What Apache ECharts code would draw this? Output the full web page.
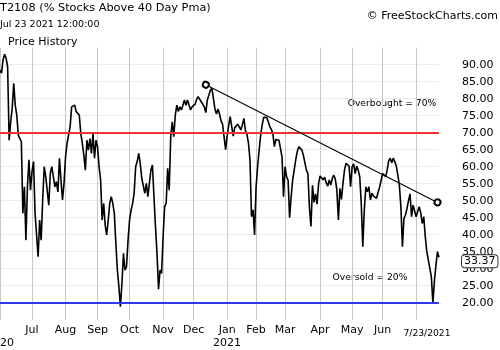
<!DOCTYPE html>
<html><head><meta charset="utf-8">
<script src="https://cdn.jsdelivr.net/npm/echarts@6/dist/echarts.min.js"></script>
<style>html,body{margin:0;padding:0;background:#fff}#c{width:500px;height:350px}</style>
</head><body><div id="c"></div>
<script>
// ---- data ----
const firstDate = '2020-06-02';
const lastDate = '2021-07-23';
const holidays = ['2020-07-03','2020-09-07','2020-11-26','2020-12-25','2021-01-01','2021-01-18','2021-02-15','2021-04-02','2021-05-31','2021-07-05'];
const monthNames = ['Jan','Feb','Mar','Apr','May','Jun','Jul','Aug','Sep','Oct','Nov','Dec'];

const jun20 = [88.4, 87.5, 91.4, 93.1, 91.9, 89.4, 67.8, 73.2, 77.2, 84.5, 78.1, 75.2, 69.3, 68.3, 67.4, 46.3, 54.1, 38.4, 54.1, 62.0, 53.1];
const jul20 = [58.5, 61.5, 46.3, 45.8, 33.5, 44.3, 38.4, 50.2, 60.0, 57.1, 56.6, 48.7, 58.0, 60.0, 59.5, 54.1, 55.6, 52.6, 62.5, 56.1, 50.2, 55.1];
const aug20 = [62.9, 66.9, 66.4, 71.8, 77.6, 77.2, 78.1, 76.2, 76.2, 75.2, 69.8, 66.9, 63.4, 59.0, 67.8, 64.9, 68.3, 63.9, 69.8, 62.5, 67.8];
const sep20 = [65.9, 60.0, 56.1, 44.3, 49.2, 42.8, 39.9, 44.3, 49.2, 51.2, 49.2, 46.3, 37.5, 29.6, 24.7, 18.8, 25.7, 34.5, 29.6, 30.6, 38.4];
const oct20 = [44.3, 47.3, 49.2, 52.2, 60.0, 61.5, 63.9, 61.0, 56.6, 57.1, 52.2, 55.1, 51.2, 55.1, 59.0, 60.5, 51.2, 42.4, 34.5, 24.0, 29.6, 28.6];
const nov20 = [39.4, 48.2, 49.2, 59.5, 53.1, 68.8, 73.2, 68.8, 75.2, 78.1, 76.2, 77.6, 76.7, 78.1, 79.6, 78.1, 79.6, 79.6, 76.7, 77.6];
const dec20 = [77.2, 78.4, 79.8, 80.6, 80.1, 79.1, 78.4, 77.6, 75.9, 79.6, 81.0, 82.5, 83.1, 80.1, 77.0, 75.5, 77.0, 75.5, 73.5, 72.5, 72.5, 65.0];
const jan21 = [69.0, 72.0, 74.7, 74.5, 69.0, 71.5, 71.0, 72.5, 72.3, 70.8, 72.3, 74.2, 70.6, 69.6, 66.9, 62.0, 45.3, 47.3, 39.9];
const feb21 = [54.1, 60.0, 64.9, 69.3, 72.3, 74.5, 74.9, 74.5, 73.2, 71.8, 71.0, 69.8, 65.9, 68.0, 68.0, 67.8, 68.3, 62.9, 51.2];
const mar21 = [60.0, 57.1, 56.0, 45.0, 51.2, 56.1, 59.0, 62.0, 64.4, 65.9, 66.4, 64.9, 63.4, 62.9, 59.0, 58.0, 48.0, 42.4, 54.5, 49.5, 52.0, 49.0, 55.0];
const apr21 = [57.3, 57.1, 56.1, 56.9, 55.3, 54.3, 56.1, 54.6, 56.6, 57.5, 56.3, 53.1, 44.3, 53.6, 50.4, 55.1, 59.0, 61.0, 61.5, 60.2, 54.1];
const may21 = [60.0, 60.8, 58.0, 60.2, 59.0, 57.1, 49.2, 36.5, 47.3, 54.1, 52.6, 54.1, 50.2, 52.2, 51.4, 51.7, 50.7, 52.4, 53.9, 54.1];
const jun21 = [58.0, 57.5, 57.1, 59.0, 61.8, 62.5, 61.2, 62.5, 61.5, 60.2, 57.5, 54.6, 48.2, 36.5, 44.8, 45.8, 47.7, 50.0, 52.0, 45.3, 48.7, 49.2];
const jul21 = [45.3, 45.8, 48.2, 46.5, 43.3, 45.3, 39.4, 35.0, 32.5, 30.1, 27.5, 19.8, 26.5, 31.0, 35.0, 33.37];

const overbought = 70;
const oversold = 20;
const trendStart = ['2020-12-11', 84.1];
const trendEnd = ['2021-07-22', 49.5];
const lastDateLabel = '7/23/2021';

// ---- build ----
const values = [].concat(jun20, jul20, aug20, sep20, oct20, nov20, dec20, jan21, feb21, mar21, apr21, may21, jun21, jul21);
const dates = [];
(function () {
  let d = new Date(firstDate + 'T00:00:00Z');
  const end = new Date(lastDate + 'T00:00:00Z');
  while (d <= end) {
    const wd = d.getUTCDay();
    const s = d.toISOString().slice(0, 10);
    if (wd !== 0 && wd !== 6 && holidays.indexOf(s) < 0) dates.push(s);
    d = new Date(d.getTime() + 86400000);
  }
})();
const lastIdx = dates.length - 1;
const monthStart = new Set();
for (let i = 1; i < dates.length; i++) if (dates[i].slice(5, 7) !== dates[i - 1].slice(5, 7)) monthStart.add(i);
const labelShown = i => i === 0 || i === lastIdx || (monthStart.has(i) && i < lastIdx - 20);

const FF = 'DejaVu Sans';
const chart = echarts.init(document.getElementById('c'), null, { renderer: 'canvas' });
chart.setOption({
  animation: false,
  backgroundColor: '#fff',
  grid: { left: 0, right: 61, top: 47.7, bottom: 30.3, containLabel: false, outerBoundsMode: 'none' },
  xAxis: {
    type: 'category', data: dates, boundaryGap: false,
    axisLine: { show: false }, axisTick: { show: false },
    splitLine: { show: true, interval: (i) => i === 0 || monthStart.has(i), lineStyle: { color: '#c8c8c8', width: 1 } },
    axisLabel: {
      interval: (i) => labelShown(i),
      margin: 4, color: '#000', fontFamily: FF, fontSize: 11, lineHeight: 13,
      formatter: (v, i) => {
        if (i === 0) return '\n' + v.slice(0, 4);
        if (i === lastIdx) return '{d|' + lastDateLabel + '}';
        const m = +v.slice(5, 7) - 1;
        return m === 0 ? monthNames[m] + '\n' + v.slice(0, 4) : monthNames[m];
      },
      rich: { d: { fontFamily: FF, fontSize: 9.2, color: '#000', padding: [7, 24, 0, 0], lineHeight: 12 } }
    }
  },
  yAxis: {
    type: 'value', position: 'right', min: 15, max: 95, interval: 5,
    axisLine: { show: false }, axisTick: { show: false },
    splitLine: { show: true, showMinLine: false, showMaxLine: false, lineStyle: { color: '#ececec', width: 1 } },
    axisLabel: {
      margin: 23, color: '#000', fontFamily: FF, fontSize: 11,
      showMinLabel: false, showMaxLabel: false,
      formatter: v => (v <= 15 || v >= 95) ? '' : v.toFixed(2)
    }
  },
  series: [{
    type: 'line', data: values, symbol: 'none', z: 3,
    lineStyle: { color: '#000', width: 1.6 },
    endLabel: {
      show: true, distance: 23, offset: [0, 4],
      formatter: p => Number(p.value).toFixed(2),
      color: '#000', fontFamily: FF, fontSize: 11,
      backgroundColor: '#fff', borderColor: '#333', borderWidth: 1, borderRadius: 3, padding: [1, 2, 0, 2]
    },
    markLine: {
      silent: true, animation: false, label: { show: false },
      symbol: ['none', 'none'],
      data: [
        { yAxis: overbought, lineStyle: { color: '#ee3333', width: 2, type: 'solid' } },
        { yAxis: oversold, lineStyle: { color: '#3535f0', width: 2, type: 'solid' } },
        [
          { coord: trendStart, symbol: 'emptyCircle', symbolSize: 6, lineStyle: { color: '#000', width: 1.1, type: 'solid' } },
          { coord: trendEnd, symbol: 'emptyCircle', symbolSize: 6 }
        ]
      ]
    }
  }],
  graphic: [
    { type: 'text', left: 0, top: 3, style: { text: 'T2108 (% Stocks Above 40 Day Pma)', font: '11.3px "DejaVu Sans"', fill: '#000' } },
    { type: 'text', left: 0, top: 20, style: { text: 'Jul 23 2021 12:00:00', font: '9.5px "DejaVu Sans"', fill: '#000' } },
    { type: 'text', left: 8, top: 37, style: { text: 'Price History', font: '11px "DejaVu Sans"', fill: '#000' } },
    { type: 'text', right: 2, top: 11, style: { text: '\u00a9 FreeStockCharts.com', font: '11px "DejaVu Sans"', fill: '#000' } },
    { type: 'text', x: 392, y: 104, style: { text: 'Overbought = 70%', font: '9.2px "DejaVu Sans"', fill: '#000', align: 'center', verticalAlign: 'middle' } },
    { type: 'text', x: 370, y: 278, style: { text: 'Oversold = 20%', font: '9.2px "DejaVu Sans"', fill: '#000', align: 'center', verticalAlign: 'middle' } }
  ]
});
</script>
</body></html>
